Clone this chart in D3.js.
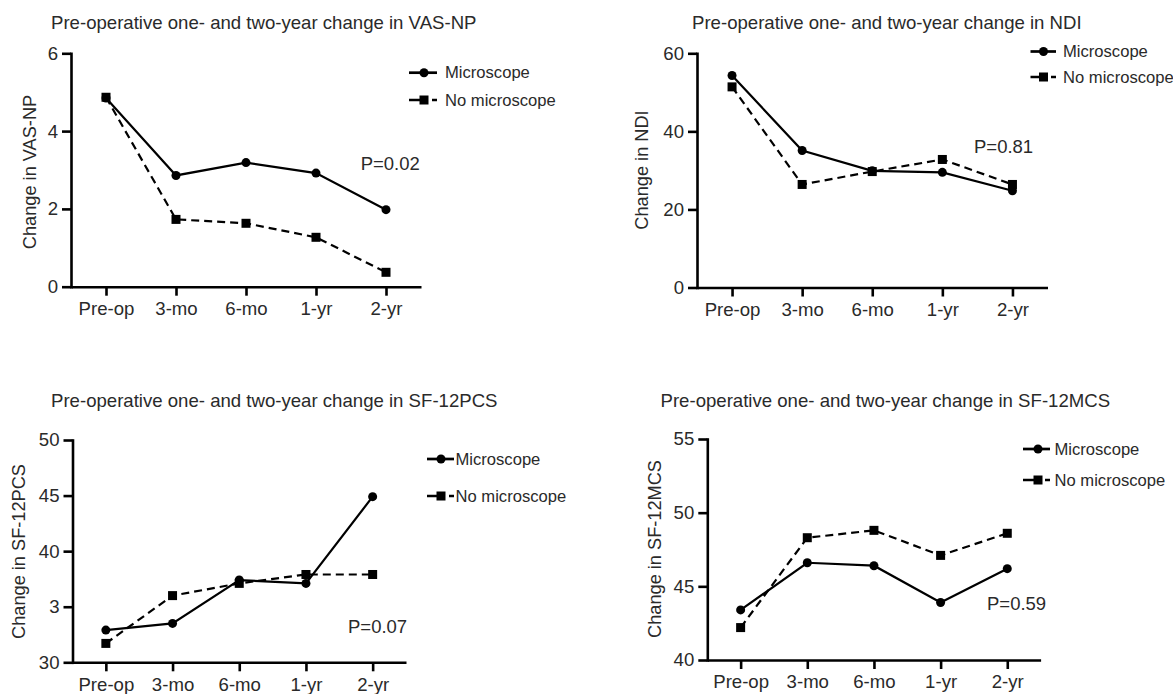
<!DOCTYPE html>
<html>
<head>
<meta charset="utf-8">
<script src="https://cdn.jsdelivr.net/npm/d3@7"></script>
<style>
  html, body { margin: 0; padding: 0; background: #fff; }
  svg { display: block; font-family: "Liberation Sans", Arial, Helvetica, sans-serif; }
</style>
</head>
<body>
<svg id="chart" width="1173" height="694"></svg>
<script>
// ---------- data ----------
const categories = ["Pre-op", "3-mo", "6-mo", "1-yr", "2-yr"];
const seriesNames = ["Microscope", "No microscope"];

const vasMicro   = [4.85, 2.86, 3.19, 2.92, 1.98];
const vasNoMicro = [4.87, 1.73, 1.63, 1.27, 0.37];

const ndiMicro   = [54.3, 35.1, 29.9, 29.5, 24.8];
const ndiNoMicro = [51.4, 26.4, 29.7, 32.8, 26.4];

const pcsMicro   = [32.9, 33.5, 37.4, 37.1, 44.9];
const pcsNoMicro = [31.7, 36.0, 37.1, 37.9, 37.9];

const mcsMicro   = [43.4, 46.6, 46.4, 43.9, 46.2];
const mcsNoMicro = [42.2, 48.3, 48.8, 47.1, 48.6];

const vasTicks = [0, 2, 4, 6];
const vasTickLabels = ["0", "2", "4", "6"];
const ndiTicks = [0, 20, 40, 60];
const ndiTickLabels = ["0", "20", "40", "60"];
const pcsTicks = [30, 35, 40, 45, 50];
const pcsTickLabels = ["30", "3", "40", "45", "50"];
const mcsTicks = [40, 45, 50, 55];
const mcsTickLabels = ["40", "45", "50", "55"];

const titles = [
  "Pre-operative one- and two-year change in VAS-NP",
  "Pre-operative one- and two-year change in NDI",
  "Pre-operative one- and two-year change in SF-12PCS",
  "Pre-operative one- and two-year change in SF-12MCS"
];
const yLabels = ["Change in VAS-NP", "Change in NDI", "Change in SF-12PCS", "Change in SF-12MCS"];
const pLabels = ["P=0.02", "P=0.81", "P=0.07", "P=0.59"];

// ---------- layout ----------
const panels = [
  { micro: vasMicro, noMicro: vasNoMicro, ticks: vasTicks, tickLabels: vasTickLabels,
    x0: 71, x1: 421, yTop: 53.3, yBot: 286.7,
    titleX: 51, titleY: 28.5, yLabX: 30, yLabY: 172,
    legLine: [409, 437], legMark: 424, legText: 445, legY: [72.7, 100],
    pX: 360.7, pY: 169.8 },
  { micro: ndiMicro, noMicro: ndiNoMicro, ticks: ndiTicks, tickLabels: ndiTickLabels,
    x0: 697, x1: 1047.5, yTop: 53.3, yBot: 287.5,
    titleX: 692, titleY: 28.5, yLabX: 642, yLabY: 170,
    legLine: [1030.5, 1056], legMark: 1043.5, legText: 1063, legY: [51.5, 77],
    pX: 974, pY: 153.2 },
  { micro: pcsMicro, noMicro: pcsNoMicro, ticks: pcsTicks, tickLabels: pcsTickLabels,
    x0: 72.5, x1: 406, yTop: 440, yBot: 662.3,
    titleX: 51, titleY: 406.5, yLabX: 19, yLabY: 551.5,
    legLine: [427, 454], legMark: 441, legText: 455.5, legY: [459, 496],
    pX: 348, pY: 633 },
  { micro: mcsMicro, noMicro: mcsNoMicro, ticks: mcsTicks, tickLabels: mcsTickLabels,
    x0: 707.3, x1: 1040.6, yTop: 439, yBot: 660,
    titleX: 660.5, titleY: 406.5, yLabX: 655, yLabY: 549,
    legLine: [1023, 1050], legMark: 1038, legText: 1054.5, legY: [449, 480],
    pX: 987, pY: 610 }
];

const textColor = "#2a2a2a";
const svg = d3.select("#chart");

function drawMarker(g, kind, cx, cy) {
  if (kind === 0) {
    g.append("circle").attr("cx", cx).attr("cy", cy).attr("r", 4.5).attr("fill", "#000");
  } else {
    g.append("rect").attr("x", cx - 4.5).attr("y", cy - 4.5)
      .attr("width", 9).attr("height", 9).attr("fill", "#000");
  }
}

panels.forEach((p, i) => {
  const g = svg.append("g");
  const x = d3.scalePoint().domain(categories).range([p.x0, p.x1]).padding(0.5);
  const ticks = p.ticks;
  const y = d3.scaleLinear().domain([ticks[0], ticks[ticks.length - 1]]).range([p.yBot, p.yTop]);

  // title
  g.append("text").attr("x", p.titleX).attr("y", p.titleY)
    .attr("font-size", 18.6).attr("fill", textColor).text(titles[i]);

  // axes
  const yAxis = d3.axisLeft(y).tickValues(ticks)
    .tickFormat((d, k) => p.tickLabels[k]).tickSize(9).tickSizeOuter(0).tickPadding(4);
  const gy = g.append("g").attr("transform", `translate(${p.x0},0)`).call(yAxis);

  const xAxis = d3.axisBottom(x).tickSize(9).tickSizeOuter(0).tickPadding(6);
  const gx = g.append("g").attr("transform", `translate(0,${p.yBot})`).call(xAxis);

  [gy, gx].forEach(a => {
    a.select(".domain").attr("stroke", "#000").attr("stroke-width", 2.6);
    a.selectAll(".tick line").attr("stroke", "#000").attr("stroke-width", 2.6);
    a.selectAll(".tick text").attr("font-size", 18.6).attr("fill", textColor)
      .attr("font-family", "Liberation Sans, Arial, Helvetica, sans-serif");
  });
  gy.select(".domain").attr("stroke-linecap", "square");

  // y label
  g.append("text")
    .attr("transform", `translate(${p.yLabX},${p.yLabY}) rotate(-90)`)
    .attr("text-anchor", "middle").attr("dominant-baseline", "central")
    .attr("font-size", 18.2).attr("fill", textColor).text(yLabels[i]);

  // lines
  const line = d3.line().x((d, k) => x(categories[k])).y(d => y(d));
  g.append("path").datum(p.noMicro).attr("d", line)
    .attr("fill", "none").attr("stroke", "#000").attr("stroke-width", 2.2)
    .attr("stroke-dasharray", "8,5");
  g.append("path").datum(p.micro).attr("d", line)
    .attr("fill", "none").attr("stroke", "#000").attr("stroke-width", 2.2);

  p.noMicro.forEach((v, k) => drawMarker(g, 1, x(categories[k]), y(v)));
  p.micro.forEach((v, k) => drawMarker(g, 0, x(categories[k]), y(v)));

  // legend
  seriesNames.forEach((name, s) => {
    const ly = p.legY[s];
    const len = p.legLine[1] - p.legLine[0];
    const ln = g.append("line").attr("x1", p.legLine[0]).attr("x2", p.legLine[1])
      .attr("y1", ly).attr("y2", ly).attr("stroke", "#000").attr("stroke-width", 2.7);
    if (s === 1) {
      const left = p.legMark - p.legLine[0];
      ln.attr("stroke-dasharray", `${left},${len - left - 5},5`);
    }
    drawMarker(g, s, p.legMark, ly);
    g.append("text").attr("x", p.legText).attr("y", ly)
      .attr("dominant-baseline", "central").attr("font-size", 16.6)
      .attr("fill", textColor).text(name);
  });

  // p value
  g.append("text").attr("x", p.pX).attr("y", p.pY)
    .attr("font-size", 18.5).attr("fill", textColor).text(pLabels[i]);
});
</script>
</body>
</html>
